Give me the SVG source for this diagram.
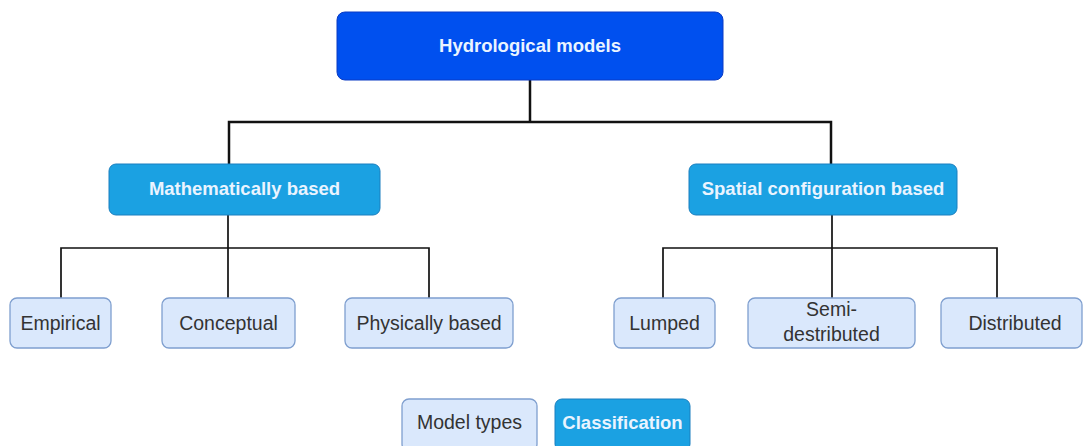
<svg xmlns="http://www.w3.org/2000/svg" width="1083" height="446" viewBox="0 0 1083 446">
  <style>
    .root rect { fill: #0050ef; stroke: #0a3bc4; stroke-width: 1; }
    .cat rect { fill: #1ba1e2; stroke: #1a7fbf; stroke-width: 1; }
    .leaf rect { fill: #dae8fc; stroke: #7f9fcf; stroke-width: 1.3; }
    .root text, .cat text { font-family: "Liberation Sans", Arial, sans-serif; font-weight: bold; font-size: 18.5px; fill: #eaf4ff; text-anchor: middle; }
    .leaf text { font-family: "Liberation Sans", Arial, sans-serif; font-size: 19.5px; fill: #333333; text-anchor: middle; }
    .edge { fill: none; stroke: #111111; stroke-linejoin: miter; }
  </style>

  <!-- connectors -->
  <g id="connectors">
    <path class="edge" stroke-width="2.5" d="M530 80 V122 M229 164 V122 H831 V164"/>
    <path class="edge" stroke-width="1.7" d="M228 215 V248 M61 298 V248 H429 V298 M228 248 V298"/>
    <path class="edge" stroke-width="1.7" d="M832 215 V248 M663 298 V248 H997 V298 M832 248 V298"/>
  </g>

  <!-- top level -->
  <g id="hydrological-models" class="root">
    <rect x="337" y="12" width="386" height="68" rx="8"/>
    <text x="530" y="52">Hydrological models</text>
  </g>

  <!-- classification -->
  <g id="mathematically-based" class="cat">
    <rect x="109" y="164" width="271" height="51" rx="7"/>
    <text x="244.5" y="195">Mathematically based</text>
  </g>
  <g id="spatial-configuration-based" class="cat">
    <rect x="689" y="164" width="268" height="51" rx="7"/>
    <text x="823" y="195">Spatial configuration based</text>
  </g>

  <!-- model types -->
  <g id="empirical" class="leaf">
    <rect x="10" y="298" width="101" height="50" rx="7"/>
    <text x="60.5" y="330">Empirical</text>
  </g>
  <g id="conceptual" class="leaf">
    <rect x="162" y="298" width="133" height="50" rx="7"/>
    <text x="228.5" y="330">Conceptual</text>
  </g>
  <g id="physically-based" class="leaf">
    <rect x="345" y="298" width="168" height="50" rx="7"/>
    <text x="429" y="330">Physically based</text>
  </g>
  <g id="lumped" class="leaf">
    <rect x="614" y="298" width="101" height="50" rx="7"/>
    <text x="664.5" y="330">Lumped</text>
  </g>
  <g id="semi-distributed" class="leaf">
    <rect x="748" y="298" width="167" height="50" rx="7"/>
    <text x="831.5" y="316">Semi-</text>
    <text x="831.5" y="341">destributed</text>
  </g>
  <g id="distributed" class="leaf">
    <rect x="941" y="298" width="141" height="50" rx="7"/>
    <text x="1015" y="330">Distributed</text>
  </g>

  <!-- legend -->
  <g id="legend-model-types" class="leaf">
    <rect x="402" y="399" width="135" height="52" rx="7"/>
    <text x="469.5" y="429">Model types</text>
  </g>
  <g id="legend-classification" class="cat">
    <rect x="555" y="399" width="135" height="52" rx="7"/>
    <text x="622.5" y="429">Classification</text>
  </g>
</svg>
